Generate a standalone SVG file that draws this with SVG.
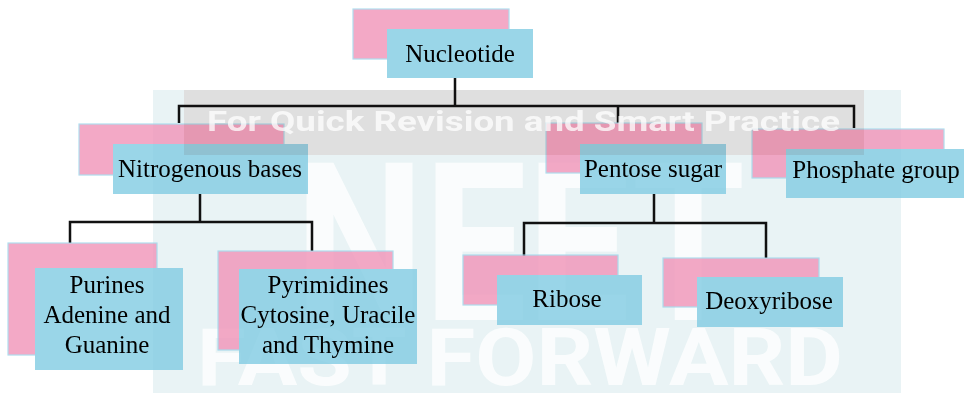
<svg xmlns="http://www.w3.org/2000/svg" width="964" height="393" viewBox="0 0 964 393">
<style>
.bx{opacity:0.8}
.pk{fill:#F194B8;stroke:#9CD6EA;stroke-width:1.2}
.bl{fill:#82CCE3}
.t{font-family:"Liberation Serif","Times New Roman",serif;font-size:25px;fill:#000;text-anchor:middle}
.c{fill:none;stroke:#111;stroke-width:2.5}
.wm{font-family:Roboto,"Liberation Sans",sans-serif;font-weight:bold;fill:#fff}
</style>
<rect width="964" height="393" fill="#fff"/>
<g id="watermark-back">
<rect x="153" y="90" width="748" height="303" fill="#E9F3F5"/>
<text class="wm" x="295" y="320" font-size="220" textLength="450" lengthAdjust="spacingAndGlyphs" opacity="0.8">NEET</text>
<text class="wm" x="197" y="385" font-size="80" textLength="646" lengthAdjust="spacingAndGlyphs" opacity="0.8">FAST FORWARD</text>
</g>
<g id="connectors">
<path class="c" d="M455 78V106M179 123V106H854V128M618 106V123"/>
<path class="c" d="M200 194V222M70 243V222H312V251"/>
<path class="c" d="M654 194V223M524 256V223H766V258"/>
</g>
<g id="nucleotide">
<g class="bx"><rect class="pk" x="353" y="9" width="156" height="50"/>
<rect class="bl" x="387" y="29" width="146" height="49"/></g>
<text class="t" x="460" y="62">Nucleotide</text>
</g>
<g id="nitrogenous">
<g class="bx"><rect class="pk" x="79" y="124" width="205" height="51"/>
<rect class="bl" x="113" y="144" width="195" height="50"/></g>
<text class="t" x="210" y="177">Nitrogenous bases</text>
</g>
<g id="pentose">
<g class="bx"><rect class="pk" x="546" y="123" width="156" height="50"/>
<rect class="bl" x="580" y="144" width="146" height="50"/></g>
<text class="t" x="653" y="177">Pentose sugar</text>
</g>
<g id="phosphate">
<g class="bx"><rect class="pk" x="752" y="129" width="192" height="49"/>
<rect class="bl" x="786" y="149" width="178" height="49"/></g>
<text class="t" x="876" y="178">Phosphate group</text>
</g>
<g id="purines">
<g class="bx"><rect class="pk" x="8" y="243" width="149" height="112"/>
<rect class="bl" x="35" y="268" width="148" height="102"/></g>
<text class="t" x="107" y="293">Purines</text>
<text class="t" x="107" y="323">Adenine and</text>
<text class="t" x="107" y="353">Guanine</text>
</g>
<g id="pyrimidines">
<g class="bx"><rect class="pk" x="218" y="251" width="175" height="99"/>
<rect class="bl" x="239" y="269" width="178" height="95"/></g>
<text class="t" x="328" y="293">Pyrimidines</text>
<text class="t" x="328" y="323">Cytosine, Uracile</text>
<text class="t" x="328" y="353">and Thymine</text>
</g>
<g id="ribose">
<g class="bx"><rect class="pk" x="463" y="255" width="155" height="50"/>
<rect class="bl" x="497" y="275" width="145" height="50"/></g>
<text class="t" x="567" y="307">Ribose</text>
</g>
<g id="deoxyribose">
<g class="bx"><rect class="pk" x="663" y="258" width="156" height="49"/>
<rect class="bl" x="697" y="277" width="146" height="50"/></g>
<text class="t" x="769" y="309">Deoxyribose</text>
</g>
<g id="watermark-front">
<rect x="184" y="90" width="680" height="65" fill="#F5EAE8" style="mix-blend-mode:multiply"/>
<text class="wm" x="207" y="131" font-size="27" textLength="633" lengthAdjust="spacingAndGlyphs" opacity="0.75">For Quick Revision and Smart Practice</text>
</g>
</svg>
